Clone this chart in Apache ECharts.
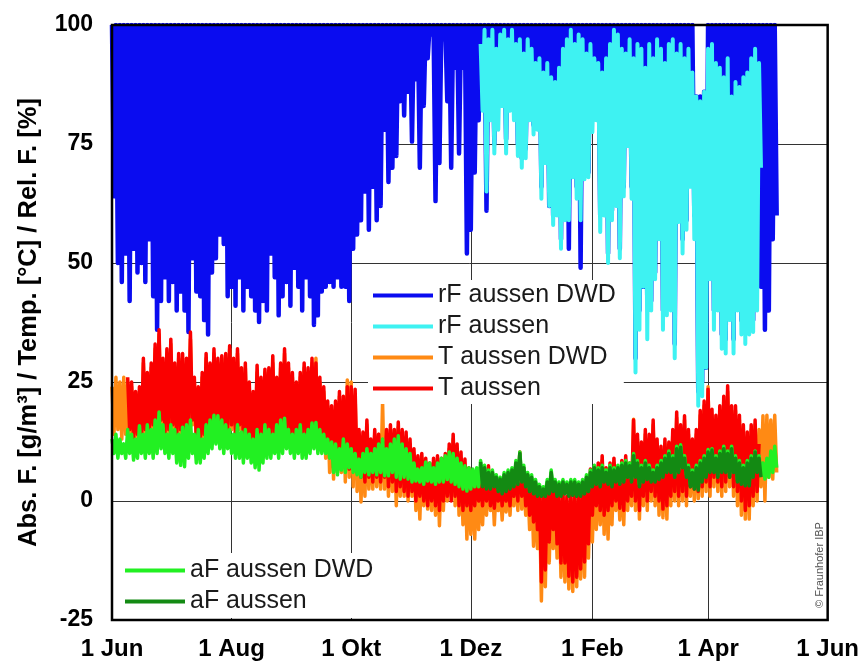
<!DOCTYPE html>
<html>
<head>
<meta charset="utf-8">
<script src="https://cdn.jsdelivr.net/npm/echarts@6/dist/echarts.min.js"></script>
<style>
  html, body { margin: 0; padding: 0; background: #fff; }
  #chart { width: 862px; height: 663px; }
</style>
</head>
<body>
<div id="chart"></div>
<script>
// Month ticks, counted in days from 1 June
const monthTickDays = [0, 61, 122, 183, 245, 304, 365];
const monthTickLabels = ['1 Jun', '1 Aug', '1 Okt', '1 Dez', '1 Feb', '1 Apr', '1 Jun'];

// Daily readings (alternating high / low extremes), first entry on the given start day

// Relative humidity, DWD station [%]
const rfDwdStart = 0;
const rfDwd = [
  100,64, 100,50, 100,46, 100,52, 100,42, 100,53, 100,48, 100,50, 100,46, 100,55,
  100,43, 100,36, 100,42, 100,47, 100,42, 100,46, 100,40, 100,44, 100,40, 100,35.5,
  100,51, 100,44, 100,43, 100,38, 100,35, 100,48, 100,51, 100,56, 100,54, 100,43,
  100,45, 100,41, 100,47, 100,40, 100,45, 100,43, 100,40, 100,37.6, 100,42, 100,40,
  100,52, 100,47, 100,39, 100,43, 100,46, 100,41, 100,49, 100,45, 100,40, 100,47,
  100,43, 100,37, 100,39, 100,44, 100,45, 100,46, 100,45, 100,47, 100,45, 100,45,
  100,42, 100,53, 100,56, 100,59, 100,65, 100,57, 100,66, 100,59, 100,62, 100,78,
  100,67, 100,70, 100,72.5, 100,84, 100,81, 100,86, 100,75.5, 100,88.6, 100,70, 100,83,
  100,93, 100,98, 100,63, 100,71, 100,97, 100,84, 100,70, 100,91, 100,73, 100,91,
  100,52, 100,57, 100,69, 100,80, 100,84, 100,61, 100,82, 100,75, 100,85, 100,84,
  100,76, 100,84, 100,85, 100,75, 100,72, 100,74, 100,82, 100,79, 100,80, 100,66,
  100,73, 100,62, 100,60, 100,62, 100,55, 100,62, 100,53, 100,70, 100,66, 100,49,
  100,70, 100,69, 100,80, 100,82, 100,60, 100,62, 100,52, 100,61, 100,64, 100,53,
  100,66, 100,76, 100,66, 100,30, 100,40, 100,45, 100,42, 100,42, 100,48, 100,57,
  100,40, 100,42, 100,44, 100,33, 100,60, 100,55, 100,59, 100,68, 100,60, 85,23,
  85,25, 86,28, 100,48, 100,40, 100,42, 100,35, 100,34, 100,40, 100,34, 100,42,
  100,38, 100,37, 100,36, 100,38, 100,60, 100,45, 100,36, 100,40, 100,55, 100,60
];

// Relative humidity, local sensor [%]
const rfStart = 188;
const rf = [
  96,82, 99,65, 97,80, 99,73, 95,78, 98,83, 99,73, 97,82, 99,80, 96,72.5,
  97,70, 94,72, 97,80, 95,77, 92,78, 93,63.5, 90,71, 92,62, 89,58, 88,60,
  91,53, 95,59, 97,59, 99,68, 96,63.5, 98,59, 97,67.6, 94,68, 96,77.5, 93,80,
  92,56.5, 90,60, 93,50, 96,59, 99,62, 98,51, 95,64, 94,74.6, 97,63.5, 93,27,
  96,36, 95,45, 91,34, 96,40, 93,46.6, 97,55, 95,36, 92,39, 96,40, 97,30,
  94,58.6, 96,52, 93,57, 95,66, 90,55, 85,20, 84,22, 86,28, 95,46.6, 96,36,
  92,40, 91,32, 89,31, 93,38, 85,31, 88,40, 87,35, 89,33, 90,35, 93,35.5,
  95,40, 92,70
];

// Air temperature, DWD station [°C]
const tDwdStart = 0;
const tDwd = [
  24,14, 26,15, 25,13, 26,14, 25,13, 24,12, 22,13, 23,11, 29,14, 26,13,
  28,15, 32,14, 35,16, 29,13, 31,14, 33,15, 28,12, 30,14, 30,13, 29,15,
  34,16, 25,12, 23,11, 26,13, 30,15, 28,14, 31,16, 29,15, 30,13, 30,14,
  32,15, 29,13, 31,15, 27,12, 28,11, 24,10, 22,11, 27,13, 25,12, 27,14,
  27,13, 29,12, 25,11, 28,13, 31,14, 28,13, 26,12, 24,11, 26,12, 28,13,
  27,12, 29,13, 30,12, 25,11, 23,9, 20,6, 19,4.6, 20,6, 22,6, 21,4,
  25.4,5, 25,3, 22,2, 14,-0.2, 13,1, 16,2.5, 12,2.5, 14,3, 14,2.5, 20.8,2.5,
  14,1, 15,2, 14,-1, 15.5,1, 14,1, 13.5,0, 12,1, 10,-2, 8.5,-3.8, 9,-1,
  8,-1.7, 7,-2, 8,-3, 8.5,-5.2, 8,-2, 9,0, 11,1, 13,-1, 11,-3, 9,-5,
  7.4,-8, 6,-7, 5,-8, 5,-6, 4,-5, 5,-3, 6.5,-2, 4,-5, 3.5,-2, 3,-4,
  4.5,-2.3, 4,-3, 5,-1, 7,-2, 9,-1.7, 6,-3, 4,-6, 3.5,-9.5, 2,-10, 1.5,-21,
  0.5,-18, 2,-13, 4,-10, 1.5,-12, 0,-16, 1,-17, 0,-18.5, 0.5,-19, 1,-18, 0,-16.4,
  2,-16, 3,-12, 5,-8.6, 5.5,-6, 7,-5, 8.5,-7, 6,-8, 7,-5, 8,-2, 6,-4,
  7.5,-5, 8.5,-2, 7,-1, 17.2,-2, 13,-3.8, 11,-1, 14,-2, 13,0, 16,-1, 12,-3,
  10.5,-3.5, 12,-3.8, 11.5,-1, 14,0, 17.5,-1, 15,0, 17,-1, 14,1, 12,0, 14,0.5,
  18,1, 20,2, 24,1, 18,3, 17,2, 19,1, 21,2, 23,3, 19,1, 19,-1,
  17,-3, 15,-3.8, 13.5,-3.8, 15,-1, 16,0, 15,3, 17.9,0, 18,5, 17,4.6, 18,6
];

// Air temperature, local sensor [°C]
const tStart = 8;
const t = [
  26,15, 25,13, 23,14, 24,12, 30,15, 27,14, 29,16, 33,15, 36,17, 30,14,
  32,15, 34,16, 29,13, 31,15, 31,14, 30,16, 35.5,17, 26,13, 24,12, 27,14,
  31,16, 29,15, 32,17, 30,16, 30.5,14, 31,15, 32.6,16, 30,14, 32,16, 28,13,
  29,12, 25,11, 23,12, 28.5,14, 26,13, 27.7,15, 28,14, 30.5,13, 26,12, 29,14,
  32,15, 29,14, 27,13, 25,12, 27,13, 29,14, 28,13, 30,15, 29,14, 26,13,
  24,12, 21,10, 20,7, 21,8, 23,9, 22,7, 24,6.7, 24,8, 23.5,6, 15,5,
  14.5,4, 17,5, 13,4, 15,5, 14,4, 12.4,5, 15,3, 16,4, 15,2, 16.6,3,
  15,2, 14.5,1, 13,2, 11,0, 9.5,1, 10,0, 9,-1, 8,0, 9,-1, 9.5,-2,
  9,0, 10,1, 12,0, 14,1, 12,-1, 10.3,-2, 8.8,-1, 7,-2, 6,-1, 6,0,
  5,-1, 6,0, 7.4,-1, 5,-1.5, 4.6,0, 4,-1, 5.3,0, 5,-1, 6,1, 8,0,
  10.3,1, 7,-1, 5,-3, 4.6,-4.4, 3,-6, 2.5,-17, 1.5,-14.5, 3,-8.6, 5.3,-6, 2.5,-9,
  1,-13, 2,-13, 1,-15.8, 1.5,-17, 2,-16, 1,-14.3, 3,-12.8, 4,-9, 6.7,-3, 6.7,-1,
  8,-2, 9.5,-3, 7,-2, 8,-1, 9,0, 7,-1.5, 8.5,-2, 9.5,0, 8,1, 17,0,
  14,-2, 12.4,1, 15,0, 14,2, 17,1, 13,0, 11.5,-1.7, 13,-1, 12.4,1, 15,2,
  18.7,1, 16,2, 17.9,1, 15,3, 13,2.5, 15,2, 19,3, 21,4, 23.5,3, 19.3,5,
  18,4, 20,3, 22,4, 24.2,5, 20,3, 20,2, 18,0, 16,-2, 14.5,-1, 16,1,
  17,2, 12
];

// Absolute humidity, DWD station [g/m³]
const afDwdStart = 0;
const afDwd = [
  13,10, 14,9, 13,10, 12,9, 15,10, 14,8.6, 13,9, 15.8,10, 14,9, 16,10,
  15,9, 17,10, 18.7,11, 16,10, 14,9, 16,10, 15,8, 14,7.5, 15.5,7.2, 16,9,
  17,10, 14,8, 15,8, 13,9, 16,10, 17,11, 18,12, 17.9,11, 17,10, 16,11,
  15,10, 14,9, 16,9, 14.5,8, 15,9, 14,8, 13,7, 15,6.5, 14,8, 16,9,
  15,9, 14,10, 16,9, 17,10, 17.4,11, 15,10, 14,9, 15,10, 16,9, 14,9,
  15,10, 16.4,11, 16.5,10, 15,10, 14,10, 13,9, 12.4,6, 12,5.5, 11,6.5, 13,6,
  12,7, 11,6, 10,5.5, 8.8,5, 10,6, 11,5.5, 10,6, 11,5.5, 12,6, 13,5.3,
  11,5.3, 12,6, 13,5, 13.7,4.6, 12,5, 11,4.6, 10,4, 8,4.2, 6.7,4, 7,3.5,
  8.2,4.2, 8,4, 7,3.5, 8,4, 9,4, 9.5,4.5, 10.3,4, 10,3.5, 9,3, 8,2.5,
  7.4,2.1, 7,2.5, 6.7,3, 7,3, 8.5,3.5, 7.5,3, 6.5,3, 6.5,3.2, 5.5,2.5, 5,2,
  6,2.5, 6.5,3, 7,3.5, 8.5,4, 10.3,4.5, 7.5,3.5, 6,2.5, 5.5,2, 4.5,1.5, 3.5,1.5,
  3,1.5, 4.5,2, 6.5,2.5, 4.5,1.5, 4,1.5, 4.5,2, 4,1.5, 4.5,1.7, 4.5,1.5, 4,1.5,
  4.5,2, 5.5,2.5, 6.5,3.5, 7.5,4, 7,3.5, 7.5,4.5, 6.5,4, 7.5,3.5, 7,4.5, 7.5,4,
  8,4.5, 8.5,5.5, 8,4.5, 10,5.5, 8.5,3.5, 7.5,4.5, 8.5,5, 7.5,4.5, 6.5,4.5, 7.5,5,
  8.5,5.5, 9.5,6.5, 10.5,6.5, 9.5,5.5, 11.5,6.5, 11.8,7.5, 9.5,5.5, 7.5,3.5, 6.5,3, 7.5,3,
  8.5,4.5, 9.5,5.5, 10.8,6.5, 11,6.5, 9.5,5.5, 10.5,6.5, 11.5,6.5, 10.5,5.5, 11.5,6.5, 9.5,4.5,
  8.5,4, 7.5,3.5, 8.5,4, 9.5,5.5, 10.5,6.5, 9.5,5.5, 8,4.6, 9,5, 10.5,6, 11.5,7
];

// Absolute humidity, local sensor [g/m³]
const afStart = 188;
const af = [
  8.2,3, 7,2.5, 6,2.5, 6,3, 5,2, 4.6,1.5, 5.5,2, 6,2.5, 6.5,3, 8,3.5,
  10,4, 7,3, 5.5,2, 5,1.5, 4,1, 3,1, 2.5,1, 4,1.5, 6,2, 4,1,
  3.5,1, 4,1.5, 3.5,1, 4,1.2, 4,1, 3.5,1, 4,1.5, 5,2, 6,3, 7,3.5,
  6.5,3, 7,4, 6,3.5, 7,3, 6.5,4, 7,3.5, 7.5,4, 8,5, 7.4,4, 9.5,5,
  8,3, 7,4, 8,4.5, 7,4, 6,4, 7,4.5, 8,5, 9,6, 10,6, 9,5,
  11,6, 11.3,7, 9,5, 7,3, 6,2.5, 7,2.3, 8,4, 9,5, 10.3,6, 10.7,6,
  9,5, 10,6, 11,6, 10,5, 11,6, 9,4, 8,3.5, 7,3.2, 8,3.2, 9,5,
  10.3,6, 9,5
];

const FONT = '"Liberation Sans", Arial, Helvetica, sans-serif';

function daily(start, values) {
  return values.map((v, i) => [start + i, v]);
}

const seriesDefs = [
  { name: 'rF aussen DWD', color: '#0a0cf0', width: 4.5, start: rfDwdStart, values: rfDwd },
  { name: 'rF aussen',     color: '#3ef2f2', width: 4,   start: rfStart,    values: rf },
  { name: 'T aussen DWD',  color: '#ff8a14', width: 3.5, start: tDwdStart,  values: tDwd },
  { name: 'T aussen',      color: '#fa0000', width: 3.5, start: tStart,     values: t },
  { name: 'aF aussen DWD', color: '#22f022', width: 3.5, start: afDwdStart, values: afDwd },
  { name: 'aF aussen',     color: '#138a13', width: 3.5, start: afStart,    values: af }
];

const gridLine = { show: true, lineStyle: { color: '#333', width: 1 } };

const legendText = { fontFamily: FONT, fontSize: 25, color: '#1a1a1a' };

const option = {
  animation: false,
  backgroundColor: '#fff',
  textStyle: { fontFamily: FONT },
  grid: {
    left: 112, right: 33, top: 25, bottom: 43,
    show: true, z: 10,
    borderColor: '#000', borderWidth: 2.5,
    backgroundColor: 'rgba(0,0,0,0)'
  },
  xAxis: {
    type: 'value', min: 0, max: 365,
    axisLine: { show: false },
    axisTick: { show: false, customValues: monthTickDays },
    axisLabel: {
      customValues: monthTickDays,
      showMinLabel: true, showMaxLabel: true,
      formatter: v => monthTickLabels[monthTickDays.indexOf(v)],
      fontFamily: FONT, fontWeight: 'bold', fontSize: 24, color: '#000', margin: 17
    },
    splitLine: gridLine
  },
  yAxis: {
    type: 'value', min: -25, max: 100, interval: 25,
    axisLine: { show: false },
    axisTick: { show: false },
    axisLabel: { fontFamily: FONT, fontWeight: 'bold', fontSize: 23, color: '#000', margin: 19 },
    splitLine: gridLine,
    name: 'Abs. F. [g/m³] / Temp. [°C] / Rel. F. [%]',
    nameLocation: 'middle',
    nameGap: 70,
    nameTextStyle: { fontFamily: FONT, fontWeight: 'bold', fontSize: 25.5, color: '#000' }
  },
  legend: [
    {
      data: ['rF aussen DWD', 'rF aussen', 'T aussen DWD', 'T aussen'],
      orient: 'vertical', left: 368, top: 280,
      padding: [3, 8, 3, 5], itemGap: 6,
      itemWidth: 60, itemHeight: 4, icon: 'rect',
      backgroundColor: '#fff', selectedMode: false,
      textStyle: legendText
    },
    {
      data: ['aF aussen DWD', 'aF aussen'],
      orient: 'vertical', left: 120, top: 553,
      padding: [5, 8, 4, 5], itemGap: 6,
      itemWidth: 60, itemHeight: 4, icon: 'rect',
      backgroundColor: '#fff', selectedMode: false,
      textStyle: legendText
    }
  ],
  graphic: [
    {
      type: 'text', x: 820, y: 565, rotation: Math.PI / 2, z: 20,
      style: {
        text: '© Fraunhofer IBP', fill: '#555',
        font: '11px ' + FONT, textAlign: 'center', textVerticalAlign: 'middle'
      }
    }
  ],
  series: seriesDefs.map(s => ({
    name: s.name,
    type: 'line',
    data: daily(s.start, s.values),
    showSymbol: false,
    symbol: 'none',
    color: s.color,
    lineStyle: { color: s.color, width: s.width, join: 'round' },
    emphasis: { disabled: true }
  }))
};

const chart = echarts.init(document.getElementById('chart'));
chart.setOption(option);
</script>
</body>
</html>
